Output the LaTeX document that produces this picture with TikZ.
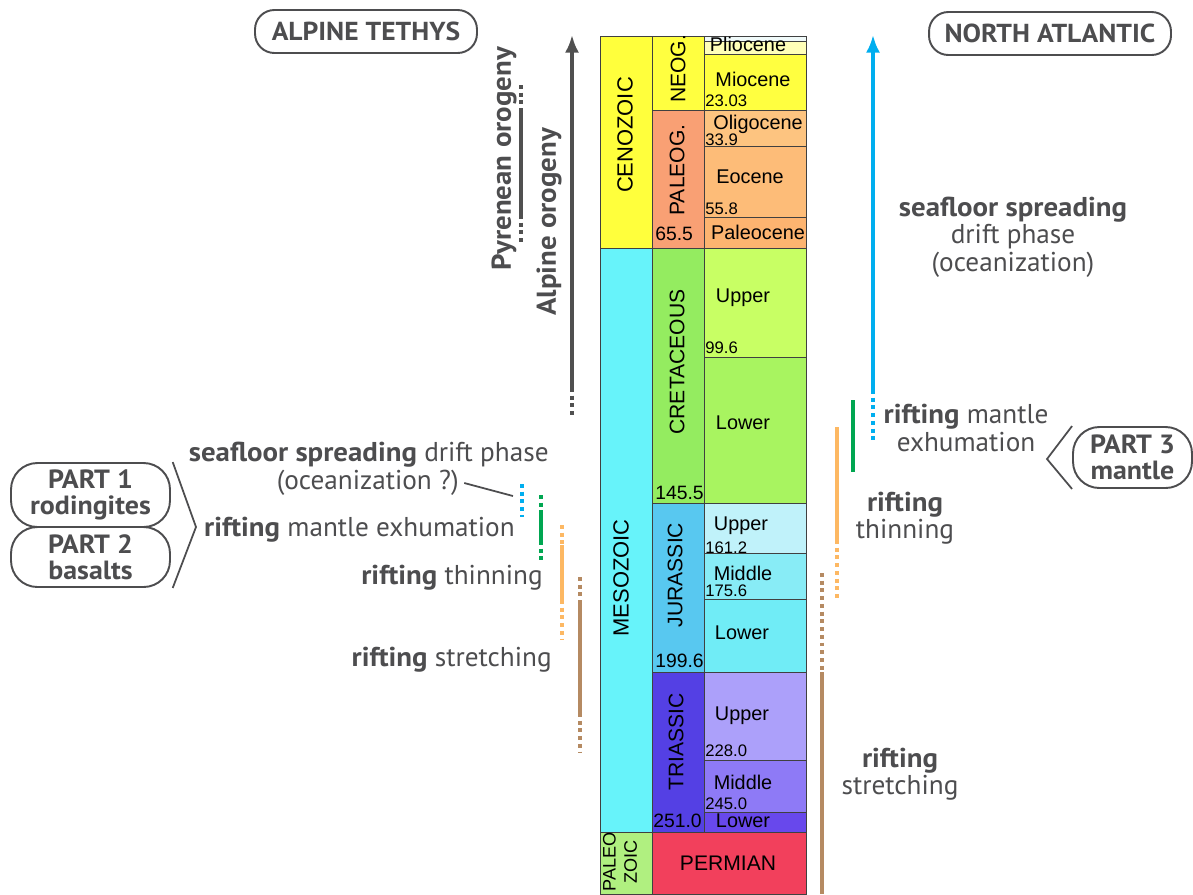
\documentclass[tikz,border=0pt]{standalone}
\usepackage{fontspec}
\setmainfont{PT Sans}[BoldFeatures={FakeStretch=1.06}]
\newfontfamily\chartfont{Liberation Sans}
\usetikzlibrary{arrows.meta}
% label and bar colours
\definecolor{txtgray}{RGB}{77,77,79}
\definecolor{arrgray}{RGB}{80,80,80}
\definecolor{spreadcol}{RGB}{0,174,239}
\definecolor{exhumcol}{RGB}{0,166,81}
\definecolor{thincol}{RGB}{253,184,99}
\definecolor{stretchcol}{RGB}{181,138,98}
% time scale colours
\definecolor{cenozoic}{RGB}{255,255,60}
\definecolor{mesozoic}{RGB}{103,243,250}
\definecolor{paleozoic}{RGB}{176,240,128}
\definecolor{neog}{RGB}{255,255,64}
\definecolor{paleog}{RGB}{249,160,116}
\definecolor{cret}{RGB}{148,236,96}
\definecolor{jur}{RGB}{88,200,240}
\definecolor{tri}{RGB}{84,64,228}
\definecolor{permian}{RGB}{242,64,92}
\definecolor{holo}{RGB}{240,250,250}
\definecolor{plio}{RGB}{255,255,184}
\definecolor{mio}{RGB}{255,255,64}
\definecolor{oligo}{RGB}{253,196,128}
\definecolor{eoc}{RGB}{253,188,120}
\definecolor{paleoc}{RGB}{253,180,112}
\definecolor{ucret}{RGB}{200,255,100}
\definecolor{lcret}{RGB}{168,244,96}
\definecolor{ujur}{RGB}{192,242,250}
\definecolor{mjur}{RGB}{136,236,246}
\definecolor{ljur}{RGB}{112,236,246}
\definecolor{utri}{RGB}{172,160,250}
\definecolor{mtri}{RGB}{142,122,246}
\definecolor{ltri}{RGB}{104,72,236}
\begin{document}
\begin{tikzpicture}[x=0.02cm,y=-0.02cm,
  cell/.style={draw=black!75,line width=0.4pt},
  lbl/.style={inner sep=0pt,font=\chartfont\fontsize{11.3}{12}\selectfont},
  era/.style={lbl,rotate=90,font=\chartfont\fontsize{12.5}{13}\selectfont},
  period/.style={lbl,rotate=90,font=\chartfont\fontsize{12}{13}\selectfont},
  age/.style={inner sep=0pt,anchor=west,font=\chartfont\fontsize{9.5}{10}\selectfont},
  bigage/.style={inner sep=0pt,anchor=west,font=\chartfont\fontsize{11}{12}\selectfont},
  note/.style={inner sep=0pt,text=txtgray,font=\fontsize{15.5}{15.6}\selectfont},
  tag/.style={draw=txtgray,line width=1.1pt,rounded corners=11pt,text=txtgray,
    font=\bfseries\fontsize{14.8}{15}\selectfont},
  part/.style={tag,rounded corners=15pt,align=center,minimum width=3.18cm,inner sep=1pt,
    font=\bfseries\fontsize{15}{14.6}\selectfont},
  link/.style={draw=txtgray,line width=1pt},
  bar/.style={line width=2.3pt},
  dots/.style={line width=2.3pt,dash pattern=on 2.2pt off 2.2pt},
]
\useasboundingbox (0,0) rectangle (1193,894);

% eras
\filldraw[cell,fill=cenozoic] (600,36) rectangle (652,248);
\filldraw[cell,fill=mesozoic] (600,248) rectangle (652,832);
\filldraw[cell,fill=paleozoic] (600,832) rectangle (652,894);
% periods
\filldraw[cell,fill=neog] (652,36) rectangle (704,110);
\filldraw[cell,fill=paleog] (652,110) rectangle (704,248);
\filldraw[cell,fill=cret] (652,248) rectangle (704,503);
\filldraw[cell,fill=jur] (652,503) rectangle (704,672);
\filldraw[cell,fill=tri] (652,672) rectangle (704,832);
\filldraw[cell,fill=permian] (652,832) rectangle (806,894);
% epochs
\filldraw[cell,fill=holo] (704,36) rectangle (806,41);
\filldraw[cell,fill=plio] (704,41) rectangle (806,54);
\filldraw[cell,fill=mio] (704,54) rectangle (806,110);
\filldraw[cell,fill=oligo] (704,110) rectangle (806,146);
\filldraw[cell,fill=eoc] (704,146) rectangle (806,217);
\filldraw[cell,fill=paleoc] (704,217) rectangle (806,248);
\filldraw[cell,fill=ucret] (704,248) rectangle (806,357);
\filldraw[cell,fill=lcret] (704,357) rectangle (806,503);
\filldraw[cell,fill=ujur] (704,503) rectangle (806,553);
\filldraw[cell,fill=mjur] (704,553) rectangle (806,599);
\filldraw[cell,fill=ljur] (704,599) rectangle (806,672);
\filldraw[cell,fill=utri] (704,672) rectangle (806,760);
\filldraw[cell,fill=mtri] (704,760) rectangle (806,812);
\filldraw[cell,fill=ltri] (704,812) rectangle (806,832);

\node[era] (ceno) at (625,135) {CENOZOIC};
\node[era] (meso) at (621,578) {MESOZOIC};
\node[era,align=center,font=\chartfont\fontsize{10.3}{12}\selectfont] (paleo) at (620,862) {PALEO\\ZOIC};
\node[period] (neo) at (678,69) {NEOG.};
\node[period] (pg) at (677,170) {PALEOG.};
\node[period] (cr) at (677,362) {CRETACEOUS};
\node[period] (ju) at (675,575) {JURASSIC};
\node[period] (tr) at (676,742) {TRIASSIC};
\node[lbl,font=\chartfont\fontsize{12}{13}\selectfont] (perm) at (728,863) {PERMIAN};

\node[lbl] (plioc) at (748,44) {Pliocene};
\node[lbl] (mioc) at (753,79) {Miocene};
\node[lbl] (oligoc) at (758,124) {Oligocene};
\node[lbl] (eocn) at (750,177) {Eocene};
\node[lbl] (paleocn) at (758,232) {Paleocene};
\node[lbl] (crup) at (743,298) {Upper};
\node[lbl] (crlo) at (743,423) {Lower};
\node[lbl] (juup) at (741,526) {Upper};
\node[lbl] (jumi) at (743,573) {Middle};
\node[lbl] (julo) at (742,633) {Lower};
\node[lbl] (trup) at (742,716) {Upper};
\node[lbl] (trmi) at (743,782) {Middle};
\node[lbl] (trlo) at (743,821) {Lower};

\node[age] (a23) at (705,101) {23.03};
\node[age] (a33) at (705,140) {33.9};
\node[age] (a55) at (705,209) {55.8};
\node[age] (a99) at (705,348) {99.6};
\node[age] (a161) at (705,548) {161.2};
\node[age] (a175) at (705,591) {175.6};
\node[age] (a228) at (705,751) {228.0};
\node[age] (a245) at (705,804) {245.0};
\node[bigage] (a65) at (655,234) {65.5};
\node[bigage] (a145) at (655,493) {145.5};
\node[bigage] (a199) at (655,661) {199.6};
\node[bigage] (a251) at (653,821) {251.0};

% titles
\node[tag,minimum width=4.44cm,minimum height=0.86cm] (tethys) at (366,31.5) {ALPINE TETHYS};
\node[tag,minimum width=4.84cm,minimum height=0.86cm] (atlantic) at (1050,33.5) {NORTH ATLANTIC};

% orogenies
\draw[bar,arrgray,-{Latex[length=10pt,width=8pt]}] (572,388) -- (572,35);
\draw[dots,arrgray] (572,388) -- (572,418);
\node[note,rotate=90,font=\bfseries\fontsize{15.5}{15}\selectfont] (alpine) at (549,222) {Alpine orogeny};
\node[note,rotate=90,font=\bfseries\fontsize{15.5}{15}\selectfont] (pyrenean) at (504,159) {Pyrenean orogeny};
\draw[dots,arrgray] (521,85) -- (521,108);
\draw[bar,arrgray] (521,108) -- (521,215);
\draw[dots,arrgray] (521,215) -- (521,243);

% alpine tethys phases
\draw[dots,spreadcol] (522,484) -- (522,517);
\draw[dots,exhumcol] (541,495) -- (541,510);
\draw[bar,exhumcol] (541,510) -- (541,541);
\draw[dots,exhumcol] (541,541) -- (541,560);
\draw[dots,thincol] (562,525) -- (562,545);
\draw[bar,thincol] (562,545) -- (562,600);
\draw[dots,thincol] (562,600) -- (562,640);
\draw[dots,stretchcol] (580,577) -- (580,600);
\draw[bar,stretchcol] (580,600) -- (580,713);
\draw[dots,stretchcol] (580,713) -- (580,753);

\node[note,anchor=east] (spreadL) at (549,455) {\textbf{seafloor spreading} drift phase};
\node[note,anchor=east] (oceanL) at (459,483) {(oceanization ?)};
\node[note,anchor=east] (exhumL) at (515,530) {\textbf{rifting} mantle exhumation};
\node[note,anchor=east] (thinL) at (543,578) {\textbf{rifting} thinning};
\node[note,anchor=east] (stretchL) at (552,660) {\textbf{rifting} stretching};
\coordinate (spreadtop) at (513,496);
\draw[link] ([xshift=3pt]oceanL.east) -- (spreadtop);

\node[part,minimum height=1.28cm] (part1) at (90.5,495) {PART 1\\rodingites};
\node[part,minimum height=1.2cm] (part2) at (90.5,557) {PART 2\\basalts};
\coordinate (tipL) at (196,527);
\draw[link] ([xshift=1pt]part1.north east) -- (tipL) -- ([xshift=1pt]part2.south east);

% north atlantic phases
\draw[bar,spreadcol,-{Latex[length=10pt,width=8pt]}] (873,390) -- (873,35);
\draw[dots,spreadcol] (873,390) -- (873,440);
\draw[bar,exhumcol] (853,400) -- (853,472);
\draw[bar,thincol] (837,427) -- (837,540);
\draw[dots,thincol] (837,540) -- (837,600);
\draw[dots,stretchcol] (822,573) -- (822,672);
\draw[bar,stretchcol] (822,672) -- (822,894);

\node[note,align=center] (spreadR) at (1013,237) {\textbf{seafloor spreading}\\drift phase\\(oceanization)};
\node[note,align=center] (exhumR) at (966,428) {\textbf{rifting} mantle\\exhumation};
\node[note,align=center] (thinR) at (905,518) {\textbf{rifting}\\thinning};
\node[note,align=center] (stretchR) at (900,774) {\textbf{rifting}\\stretching};

\node[part,minimum width=2.38cm,minimum height=1.22cm] (part3) at (1132.5,457.5) {PART 3\\mantle};
\coordinate (tipR) at (1047,459);
\draw[link] (part3.north west) -- (tipR) -- (part3.south west);
\end{tikzpicture}
\end{document}
